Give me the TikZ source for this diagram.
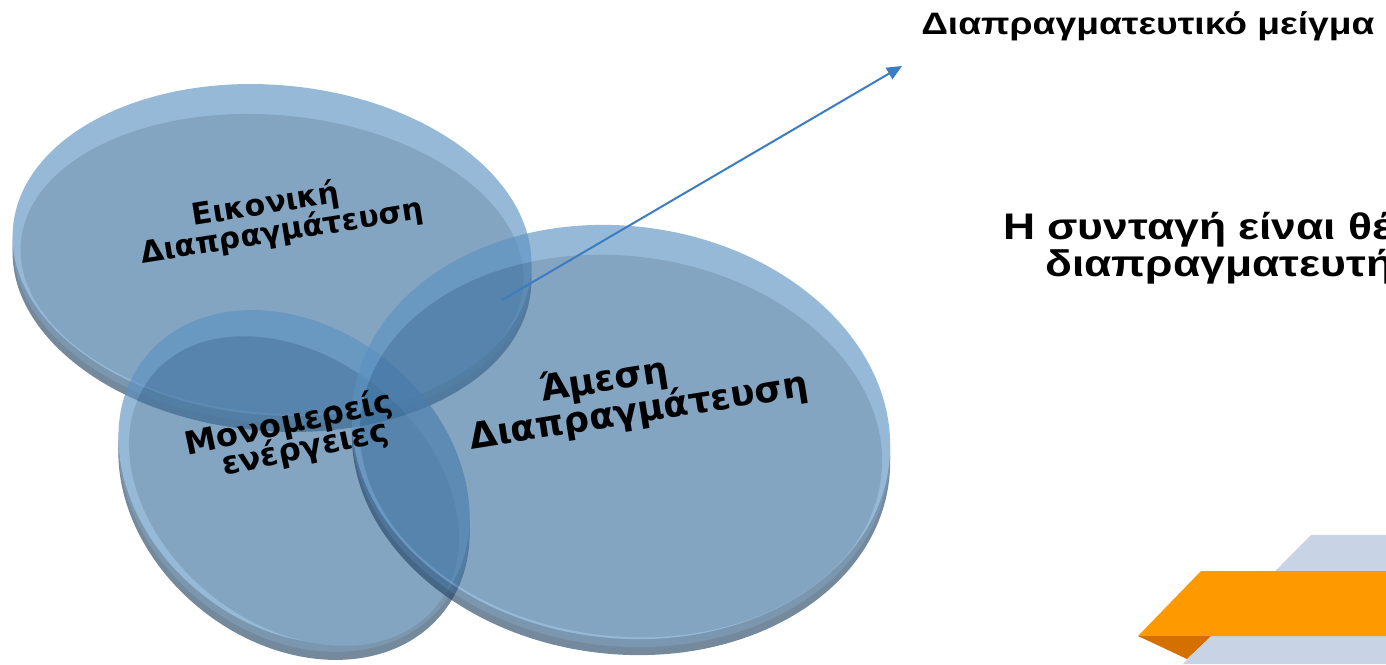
\documentclass[tikz,border=0pt]{standalone}
\usepackage{fontspec}
\setmainfont{Liberation Sans}
\newfontfamily\discfont{DejaVu Sans}
\usetikzlibrary{arrows.meta}
\definecolor{rimc}{RGB}{91,145,194}
\definecolor{facec}{RGB}{61,113,159}
\definecolor{sidemid}{RGB}{48,89,129}
\definecolor{sidedark}{RGB}{37,69,100}
\definecolor{arrowc}{RGB}{59,125,192}
\definecolor{orangec}{RGB}{255,153,0}
\definecolor{darkorange}{RGB}{212,112,0}
\definecolor{paleblue}{RGB}{200,212,230}
% #1 cx, #2 cy, #3 a, #4 b, #5 angle
\newcommand\drawdisc[5]{%
  \begin{scope}[transparency group, opacity=0.634]
    \fill[sidedark, rotate around={#5:(#1,#2-16)}] (#1,#2-16) ellipse ({#3} and {#4});
    \fill[sidemid, rotate around={#5:(#1,#2-8)}] (#1,#2-8) ellipse ({#3} and {#4});
    \fill[rimc, rotate around={#5:(#1,#2)}] (#1,#2) ellipse ({#3} and {#4});
    \fill[facec, rotate around={#5:(#1,#2-14)}] (#1,#2-14) ellipse ({#3-8} and {#4-16});
  \end{scope}}
\tikzset{
  disclabel/.style={font=\discfont\bfseries\fontsize{30}{27}\selectfont, text=black, inner sep=0pt},
  sidetext/.style={font=\bfseries\fontsize{#1}{#1}\selectfont, anchor=base west, text=black, inner sep=0pt},
}
\begin{document}
\begin{tikzpicture}[x=1pt,y=1pt]
\useasboundingbox (0,0) rectangle (1386,664);
\clip (0,0) rectangle (1386,664);
% discs
\drawdisc{272}{414}{260}{165}{-5}
\drawdisc{294}{187}{191}{149}{-39}
\drawdisc{621}{232}{270}{206}{-7}
% labels
\node[disclabel, rotate=9] (eik1) at (266,459) {Εικονική};
\node[disclabel, rotate=9] (eik2) at (282,432) {Διαπραγμάτευση};
\node[disclabel, rotate=12, font=\discfont\bfseries\fontsize{32}{28}\selectfont] (mon1) at (289,240) {Μονομερείς};
\node[disclabel, rotate=12, font=\discfont\bfseries\fontsize{32}{28}\selectfont] (mon2) at (305,215) {ενέργειες};
\node[disclabel, rotate=9, font=\discfont\bfseries\fontsize{36}{30}\selectfont] (ames1) at (604,283) {Άμεση};
\node[disclabel, rotate=9, font=\discfont\bfseries\fontsize{36}{30}\selectfont] (ames2) at (639,252) {Διαπραγμάτευση};
% arrow
\coordinate (astart) at (502,364);
\coordinate (aend) at (902,598);
\draw[arrowc, line width=2pt, -{Triangle[length=15pt,width=13pt]}] (astart) -- (aend);
% right texts
\node[sidetext=31, xscale=1.2] (title) at (921,629) {Διαπραγματευτικό μείγμα};
\node[sidetext=37, xscale=1.2] (line1) at (1003,424) {Η συνταγή είναι θέ};
\node[sidetext=37, xscale=1.2] (line2) at (1045,387) {διαπραγματευτή};
% bottom-right decoration
\fill[paleblue] (1311,129) -- (1386,129) -- (1386,0) -- (1183,0) -- cycle;
\fill[orangec] (1201,93) -- (1386,93) -- (1386,28) -- (1138,28) -- cycle;
\fill[darkorange] (1138,28) -- (1211,28) -- (1187,5) -- cycle;
\end{tikzpicture}
\end{document}
